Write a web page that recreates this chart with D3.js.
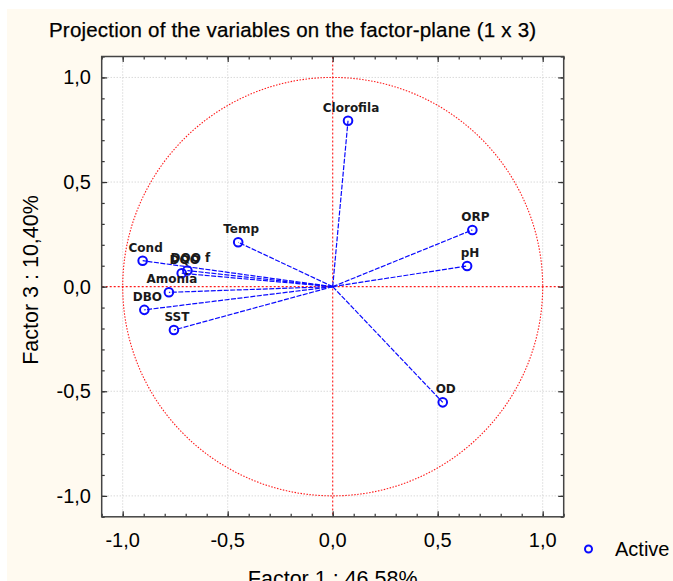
<!DOCTYPE html>
<html>
<head>
<meta charset="utf-8">
<script src="https://cdn.jsdelivr.net/npm/d3@7"></script>
<style>
  body { margin: 0; background: #fff; }
  svg { display: block; }
</style>
</head>
<body>
<div id="chart"></div>
<script>
var w = 673;
var h = 581;

// variable names and their loadings on factor 1 / factor 3
var varNames = ['Clorofila', 'ORP', 'pH', 'OD', 'Temp', 'Cond', 'DQO f', 'DQO', 'Amonia', 'DBO', 'SST'];
var factor1 = [0.073, 0.665, 0.640, 0.524, -0.450, -0.905, -0.692, -0.719, -0.780, -0.897, -0.756];
var factor3 = [0.793, 0.271, 0.099, -0.553, 0.212, 0.124, 0.077, 0.064, -0.027, -0.111, -0.207];

var majorTicks = [-1, -0.5, 0, 0.5, 1];
var gridTicks = [-1, -0.5, 0.5, 1];

var titleText = 'Projection of the variables on the factor-plane (1 x 3)';
var xTitle = 'Factor 1 : 46,58%';
var yTitle = 'Factor 3 : 10,40%';
var legendLabel = 'Active';

// plot box (note: "top" is reserved on window, so use box*)
var boxLeft = 101.7, boxRight = 563.7, boxTop = 56.5, boxBottom = 516.8;

var x = d3.scaleLinear().domain([-1.1, 1.1]).range([boxLeft, boxRight]);
var y = d3.scaleLinear().domain([-1.1, 1.1]).range([boxBottom, boxTop]);

var fmt = function(d) { return d3.format('.1f')(d).replace('.', ',').replace('\u2212', '-'); };

var svg = d3.select('#chart').append('svg')
  .attr('width', w)
  .attr('height', h)
  .style('font-family', '"Liberation Sans", Arial, sans-serif');

// cream background
svg.append('rect')
  .attr('x', 7).attr('y', 9)
  .attr('width', w - 7).attr('height', h - 9)
  .attr('fill', '#fffaf0');

// plot area
svg.append('rect')
  .attr('x', boxLeft).attr('y', boxTop)
  .attr('width', boxRight - boxLeft).attr('height', boxBottom - boxTop)
  .attr('fill', '#fff');

svg.append('text')
  .attr('x', 49).attr('y', 37)
  .attr('font-size', 20.5)
  .attr('letter-spacing', 0.2)
  .attr('fill', '#000')
  .attr('stroke', '#000').attr('stroke-width', 0.25)
  .text(titleText);

var plot = svg.append('g');

// grey grid lines
plot.selectAll('.vgrid').data(gridTicks).enter().append('line')
  .attr('x1', function(d) { return x(d); }).attr('x2', function(d) { return x(d); })
  .attr('y1', boxTop).attr('y2', boxBottom)
  .attr('stroke', '#c8c8c8').attr('stroke-dasharray', '1,2');
plot.selectAll('.hgrid').data(gridTicks).enter().append('line')
  .attr('y1', function(d) { return y(d); }).attr('y2', function(d) { return y(d); })
  .attr('x1', boxLeft).attr('x2', boxRight)
  .attr('stroke', '#c8c8c8').attr('stroke-dasharray', '1,2');

// unit circle and zero lines in red
plot.append('ellipse')
  .attr('cx', x(0)).attr('cy', y(0))
  .attr('rx', x(1) - x(0)).attr('ry', y(0) - y(1))
  .attr('fill', 'none')
  .attr('stroke', '#ff1a1a').attr('stroke-width', 1.1)
  .attr('stroke-dasharray', '1.5,1.5');
plot.append('line')
  .attr('x1', x(0)).attr('x2', x(0)).attr('y1', boxTop).attr('y2', boxBottom)
  .attr('stroke', '#ff1a1a').attr('stroke-width', 1.1).attr('stroke-dasharray', '2,2');
plot.append('line')
  .attr('y1', y(0)).attr('y2', y(0)).attr('x1', boxLeft).attr('x2', boxRight)
  .attr('stroke', '#ff1a1a').attr('stroke-width', 1.1).attr('stroke-dasharray', '2,2');

// axes with inward ticks on all four sides
var minorVals = d3.range(-11, 12).map(function(i) { return i / 10; });

function addAxis(axisFn, scale, tx, ty) {
  var minor = axisFn(scale).tickValues(minorVals).tickSize(3).tickFormat('');
  var major = axisFn(scale).tickValues(majorTicks).tickSize(5.5).tickFormat('');
  var g1 = svg.append('g').attr('transform', 'translate(' + tx + ',' + ty + ')').call(minor);
  var g2 = svg.append('g').attr('transform', 'translate(' + tx + ',' + ty + ')').call(major);
  [g1, g2].forEach(function(g) {
    g.select('.domain').remove();
    g.selectAll('line').attr('stroke', '#333').attr('stroke-width', 1.2);
  });
}
addAxis(d3.axisTop, x, 0, boxBottom);
addAxis(d3.axisBottom, x, 0, boxTop);
addAxis(d3.axisRight, y, boxLeft, 0);
addAxis(d3.axisLeft, y, boxRight, 0);

svg.append('rect')
  .attr('x', boxLeft).attr('y', boxTop)
  .attr('width', boxRight - boxLeft).attr('height', boxBottom - boxTop)
  .attr('fill', 'none')
  .attr('stroke', '#444').attr('stroke-width', 1.5);

// tick labels
svg.selectAll('.xlab').data(majorTicks).enter().append('text')
  .attr('x', function(d) { return x(d); })
  .attr('y', 547)
  .attr('text-anchor', 'middle')
  .attr('font-size', 20)
  .attr('fill', '#000')
  .text(fmt);
svg.selectAll('.ylab').data(majorTicks).enter().append('text')
  .attr('x', 91)
  .attr('y', function(d) { return y(d) + 7; })
  .attr('text-anchor', 'end')
  .attr('font-size', 20)
  .attr('fill', '#000')
  .text(fmt);

// axis titles
svg.append('text')
  .attr('x', x(0)).attr('y', 586)
  .attr('text-anchor', 'middle')
  .attr('font-size', 21.5)
  .attr('fill', '#000')
  .text(xTitle);
svg.append('text')
  .attr('transform', 'translate(37.5,280) rotate(-90)')
  .attr('text-anchor', 'middle')
  .attr('font-size', 21.5)
  .attr('fill', '#000')
  .text(yTitle);

// vectors from the origin
var vars = varNames.map(function(n, i) { return { name: n, f1: factor1[i], f3: factor3[i] }; });

plot.selectAll('.vec').data(vars).enter().append('line')
  .attr('x1', x(0)).attr('y1', y(0))
  .attr('x2', function(d) { return x(d.f1); })
  .attr('y2', function(d) { return y(d.f3); })
  .attr('stroke', '#0a0aff').attr('stroke-width', 1.2)
  .attr('stroke-dasharray', '5,1.5');

plot.selectAll('.pt').data(vars).enter().append('circle')
  .attr('cx', function(d) { return x(d.f1); })
  .attr('cy', function(d) { return y(d.f3); })
  .attr('r', 4.3)
  .attr('fill', 'none')
  .attr('stroke', '#0a0aff').attr('stroke-width', 2);

plot.selectAll('.lbl').data(vars).enter().append('text')
  .attr('x', function(d) { return x(d.f1) + 3; })
  .attr('y', function(d) { return y(d.f3) - 9; })
  .attr('text-anchor', 'middle')
  .attr('font-family', '"DejaVu Sans", sans-serif')
  .attr('font-weight', 'bold')
  .attr('font-size', 12)
  .attr('fill', '#1a1a1a')
  .text(function(d) { return d.name; });

// legend
svg.append('circle')
  .attr('cx', 588.5).attr('cy', 549)
  .attr('r', 3.5)
  .attr('fill', 'none')
  .attr('stroke', '#0a0aff').attr('stroke-width', 2);
svg.append('text')
  .attr('x', 615).attr('y', 556)
  .attr('font-size', 20)
  .attr('fill', '#000')
  .text(legendLabel);
</script>
</body>
</html>
